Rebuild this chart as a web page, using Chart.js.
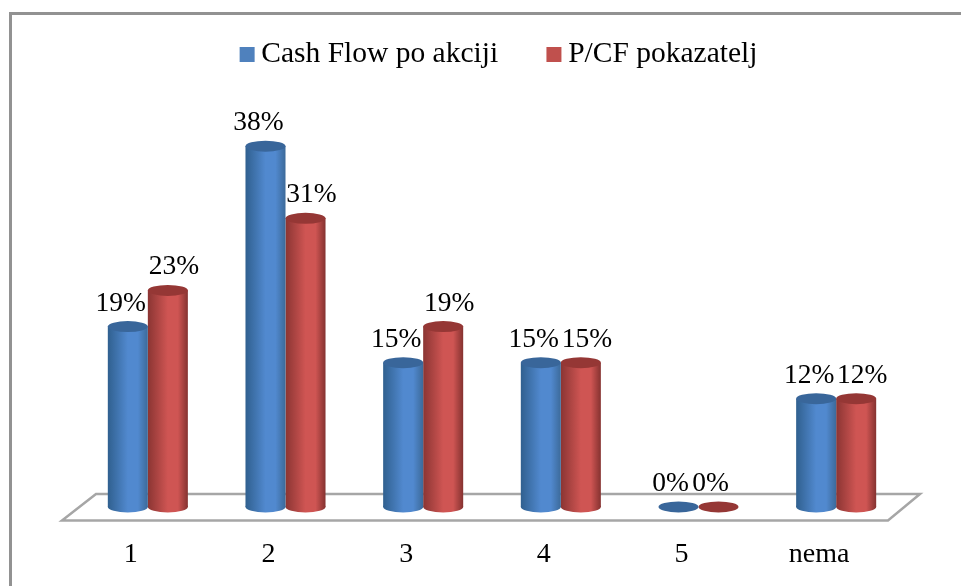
<!DOCTYPE html>
<html><head><meta charset="utf-8">
<style>
html,body{margin:0;padding:0;background:#fff;overflow:hidden}
#frame{position:absolute;left:9px;top:12px;width:960px;height:600px;border:3px solid #929292;box-sizing:border-box}
#wrap{position:absolute;left:0;top:-9px;width:961px;height:605px}
</style>
<script src="https://cdn.jsdelivr.net/npm/chart.js@4"></script>
</head><body>
<div id="frame"></div>
<div id="wrap"><canvas id="c" width="961" height="605"></canvas></div>
<script>
const categories = ["1","2","3","4","5","nema"];
const cashFlow = [19.23,38.46,15.38,15.38,0,11.54];
const pcf = [23.08,30.77,19.23,15.38,0,11.54];
const seriesNames = ['Cash Flow po akciji','P/CF pokazatelj'];
const FONT = '"Liberation Serif"';
const blue = {flat:'#4f81bd', edgeL:'#30608f', mid:'#5189cf', edgeR:'#3c6a9a', top:'#39669a'};
const red = {flat:'#c0504d', edgeL:'#8b3533', mid:'#cf5553', edgeR:'#853230', top:'#953735'};
const BARW = 40, RY = 5.5;
function grad(ctx,x0,x1,p){
  const g=ctx.createLinearGradient(x0,0,x1,0);
  g.addColorStop(0,p.edgeL);g.addColorStop(0.5,p.mid);g.addColorStop(0.75,p.mid);g.addColorStop(1,p.edgeR);
  return g;
}
function fillFor(p,side){
  return c=>{
    if(c.type!=='data'||!c.chart.scales.x) return p.flat;
    const cx=c.chart.scales.x.getPixelForValue(c.dataIndex);
    if(!Number.isFinite(cx)) return p.flat;
    const x0=side<0?cx-BARW:cx;
    return grad(c.chart.ctx,x0,x0+BARW,p);
  };
}
function swatch(color){
  const s=document.createElement('canvas');s.width=44;s.height=15;
  const g=s.getContext('2d');g.fillStyle=color;g.fillRect(22,0,15,15);
  return s;
}
const palette=[blue,red];
const cylinders={
  id:'cylinders',
  beforeDatasetsDraw(chart){
    const {ctx,chartArea:a}=chart;
    const b=a.bottom;
    ctx.save();
    ctx.beginPath();
    ctx.moveTo(a.left-17,b+13.5);ctx.lineTo(a.right-17,b+13.5);
    ctx.lineTo(a.right+15,b-13);ctx.lineTo(a.left+17,b-13);ctx.closePath();
    ctx.strokeStyle='#a6a6a6';ctx.lineWidth=2.5;ctx.stroke();
    ctx.restore();
  },
  beforeDatasetDraw(chart,args){
    const {ctx}=chart,p=palette[args.index];
    chart.getDatasetMeta(args.index).data.forEach((el,i)=>{
      if(!chart.data.datasets[args.index].data[i]) return;
      ctx.save();ctx.beginPath();
      ctx.ellipse(el.x,el.base,BARW/2,RY,0,0,Math.PI*2);
      ctx.fillStyle=grad(ctx,el.x-BARW/2,el.x+BARW/2,p);ctx.fill();ctx.restore();
    });
  },
  afterDatasetDraw(chart,args){
    const {ctx}=chart,p=palette[args.index];
    chart.getDatasetMeta(args.index).data.forEach(el=>{
      ctx.save();ctx.beginPath();
      ctx.ellipse(el.x,el.y,BARW/2,RY,0,0,Math.PI*2);
      ctx.fillStyle=p.top;ctx.fill();ctx.restore();
    });
  },
  afterDatasetsDraw(chart){
    const {ctx}=chart;
    ctx.save();ctx.font='27.5px '+FONT;ctx.fillStyle='#000';ctx.textAlign='center';ctx.textBaseline='alphabetic';
    chart.data.datasets.forEach((ds,d)=>{
      chart.getDatasetMeta(d).data.forEach((el,i)=>{
        const v=ds.data[i];
        const dx=v===0?-8:(d===0?-7:6);
        ctx.fillText(Math.round(v)+'%',el.x+dx,el.y-16);
      });
    });
    ctx.restore();
  }
};
new Chart(document.getElementById('c'),{
  type:'bar',
  data:{labels:categories,datasets:[
    {label:seriesNames[0],data:cashFlow,backgroundColor:fillFor(blue,-1),borderWidth:0,barPercentage:1,categoryPercentage:0.5814},
    {label:seriesNames[1],data:pcf,backgroundColor:fillFor(red,1),borderWidth:0,barPercentage:1,categoryPercentage:0.5814}
  ]},
  plugins:[cylinders],
  options:{
    responsive:false,animation:false,
    layout:{padding:{left:79,right:50,top:7,bottom:1.5}},
    plugins:{
      tooltip:{enabled:false},
      legend:{position:'top',labels:{font:{family:FONT,size:29.5},color:'#000',boxWidth:14,boxHeight:14,padding:41.25,
        usePointStyle:true,pointStyleWidth:14,
        generateLabels:()=>seriesNames.map((t,i)=>({text:t,fillStyle:palette[i].flat,strokeStyle:palette[i].flat,lineWidth:0,datasetIndex:i,fontColor:'#000',pointStyle:swatch(palette[i].flat)}))}}
    },
    scales:{
      x:{grid:{display:false},border:{display:false},
         ticks:{font:{family:FONT,size:28},color:'#000',labelOffset:-17,padding:23,maxRotation:0}},
      y:{position:'right',min:0,max:45.65,grid:{display:false},border:{display:false},ticks:{display:false},afterFit(s){s.width=6;}}
    }
  }
});
</script>
</body></html>
